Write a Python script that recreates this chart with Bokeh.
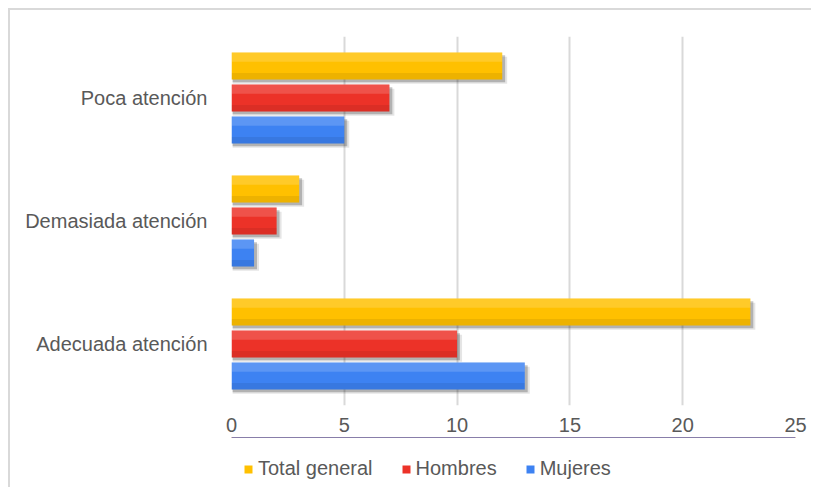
from bokeh.plotting import figure
from bokeh.models import ColumnDataSource, Range1d, FactorRange, Legend, LegendItem, FixedTicker
from bokeh.layouts import column
from bokeh.transform import dodge
from bokeh.embed import file_html
from bokeh.resources import INLINE

categories = ["Adecuada atención", "Demasiada atención", "Poca atención"]
series = ["Total general", "Hombres", "Mujeres"]
total_general = [23, 3, 12]
hombres = [10, 2, 7]
mujeres = [13, 1, 5]
x_ticks = [0, 5, 10, 15, 20, 25]

colors = {"Total general": "#FFC000", "Hombres": "#EC3228", "Mujeres": "#3D82F2"}
values = {"Total general": total_general, "Hombres": hombres, "Mujeres": mujeres}
offsets = {"Total general": 0.26, "Hombres": 0.0, "Mujeres": -0.26}

FONT = "Liberation Sans"
TXT = "#595959"
BORDER = "2px solid #d9d9d9"

p = figure(
    y_range=FactorRange(*categories), x_range=Range1d(0, 25),
    width=803, height=429,
    min_border_left=221, min_border_top=26, min_border_right=18, min_border_bottom=34,
    output_backend="svg", toolbar_location=None,
)
p.styles = {"border-left": BORDER, "border-top": BORDER,
            "margin-left": "8px", "margin-top": "8px"}
p.outline_line_color = None
p.background_fill_color = "white"
p.border_fill_color = "white"

p.xgrid.ticker = FixedTicker(ticks=x_ticks)
p.xgrid.grid_line_color = "#d9d9d9"
p.xgrid.grid_line_width = 2
p.ygrid.grid_line_color = None

p.xaxis.ticker = FixedTicker(ticks=x_ticks)
p.xaxis.axis_line_color = None
p.xaxis.major_tick_line_color = None
p.xaxis.minor_tick_line_color = None
p.xaxis.major_label_standoff = 6
p.xaxis.major_label_text_font = FONT
p.xaxis.major_label_text_font_size = "20px"
p.xaxis.major_label_text_color = TXT

p.yaxis.axis_line_color = None
p.yaxis.major_tick_line_color = None
p.yaxis.minor_tick_line_color = None
p.yaxis.major_label_standoff = 18
p.yaxis.major_label_text_font = FONT
p.yaxis.major_label_text_font_size = "20px"
p.yaxis.major_label_text_color = TXT

H = 0.22
for s in series:
    vals = values[s]
    src = ColumnDataSource(dict(
        cat=categories, v=vals,
        vs=[v + 0.13 for v in vals],
        vs2=[v + 0.22 for v in vals],
    ))
    off = offsets[s]
    # soft shadow
    p.hbar(y=dodge("cat", off - 0.035, range=p.y_range), left=0.05, right="vs2", height=H,
           source=src, fill_color="black", fill_alpha=0.10, line_color=None)
    p.hbar(y=dodge("cat", off - 0.022, range=p.y_range), left=0.05, right="vs", height=H,
           source=src, fill_color="black", fill_alpha=0.22, line_color=None)
    # main bar
    p.hbar(y=dodge("cat", off, range=p.y_range), left=0, right="v", height=H,
           source=src, fill_color=colors[s], line_color=None)
    # gradient highlight / shade
    p.hbar(y=dodge("cat", off + H * 0.33, range=p.y_range), left=0, right="v", height=H * 0.34,
           source=src, fill_color="white", fill_alpha=0.16, line_color=None)
    p.hbar(y=dodge("cat", off - H * 0.38, range=p.y_range), left=0, right="v", height=H * 0.24,
           source=src, fill_color="black", fill_alpha=0.07, line_color=None)

# legend strip under the chart (its marks lie outside its visible range)
pl = figure(width=803, height=50, x_range=Range1d(0, 1), y_range=Range1d(-1, 0),
            min_border_left=0, min_border_right=0, min_border_top=0, min_border_bottom=0,
            x_axis_type=None, y_axis_type=None,
            output_backend="svg", toolbar_location=None)
pl.styles = {"border-left": BORDER, "margin-left": "8px"}
pl.outline_line_color = None
pl.grid.visible = False
pl.border_fill_color = "white"
pl.background_fill_color = "white"

items = []
for s in series:
    vals = values[s]
    r = pl.hbar(y=vals, right=vals, height=0.5, fill_color=colors[s], line_color=None)
    items.append(LegendItem(label=s, renderers=[r]))

legend = Legend(items=items, orientation="horizontal", location=(12, 7),
                glyph_width=10, glyph_height=10, label_standoff=5, spacing=28,
                padding=0, margin=0, border_line_color=None, background_fill_alpha=0,
                label_text_font=FONT, label_text_font_size="20px", label_text_color=TXT,
                label_height=20)
pl.add_layout(legend, "center")

layout = column(p, pl, spacing=0)
open("out.html", "w").write(file_html(layout, INLINE))
